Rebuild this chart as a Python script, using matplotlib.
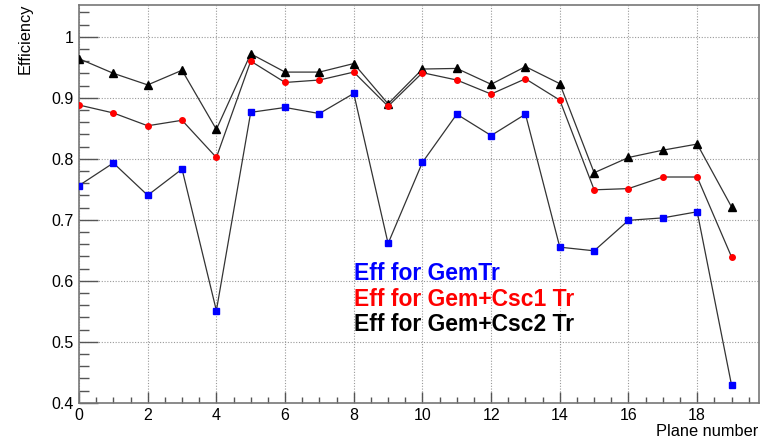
import matplotlib
matplotlib.use("Agg")
import matplotlib.pyplot as plt
from matplotlib.ticker import MultipleLocator, FuncFormatter

plt.rcParams['font.family'] = ['Liberation Sans', 'DejaVu Sans']

planes = list(range(20))
eff_gem = [0.756, 0.793, 0.740, 0.783, 0.551, 0.876, 0.884, 0.874, 0.907, 0.661,
           0.794, 0.873, 0.838, 0.873, 0.655, 0.649, 0.699, 0.703, 0.713, 0.429]
eff_csc1 = [0.888, 0.875, 0.854, 0.863, 0.802, 0.960, 0.925, 0.929, 0.942, 0.886,
            0.941, 0.929, 0.906, 0.931, 0.896, 0.749, 0.751, 0.770, 0.770, 0.639]
eff_csc2 = [0.964, 0.940, 0.921, 0.945, 0.848, 0.972, 0.942, 0.942, 0.956, 0.890,
            0.947, 0.948, 0.922, 0.951, 0.923, 0.777, 0.802, 0.814, 0.824, 0.721]
legend_labels = ["Eff for GemTr", "Eff for Gem+Csc1 Tr", "Eff for Gem+Csc2 Tr"]
legend_colors = ["#0000ff", "#ff0000", "#000000"]

fig = plt.figure(figsize=(7.73, 4.41), dpi=100)
ax = fig.add_axes([79/773, 1 - 402.7/441, (759 - 79)/773, (402.7 - 5.3)/441])

line_col = "#333333"
ax.plot(planes, eff_csc2, color=line_col, lw=0.9, marker='^', ms=5.6,
        mfc='black', mec='black', zorder=3)
ax.plot(planes, eff_csc1, color=line_col, lw=0.9, marker='o', ms=4.0,
        mfc='#ff0000', mec='#ff0000', zorder=3)
ax.plot(planes, eff_gem, color=line_col, lw=0.9, marker='s', ms=3.7,
        mfc='#0000ff', mec='#0000ff', zorder=3)

ax.set_xlim(0, 19.8)
ax.set_ylim(0.4, 1.0515)

ax.xaxis.set_major_locator(MultipleLocator(2))
ax.xaxis.set_minor_locator(MultipleLocator(0.5))
ax.yaxis.set_major_locator(MultipleLocator(0.1))
ax.yaxis.set_minor_locator(MultipleLocator(0.02))
ax.yaxis.set_major_formatter(FuncFormatter(lambda v, p: f"{v:g}"))

ax.tick_params(axis='both', which='both', direction='in', color='#555555',
               labelsize=11.5, top=False, right=False)
ax.tick_params(axis='y', which='major', length=14, width=1, pad=4)
ax.tick_params(axis='y', which='minor', length=7, width=1)
ax.tick_params(axis='x', which='major', length=8, width=1, pad=4)
ax.tick_params(axis='x', which='minor', length=4.3, width=1)

ax.grid(True, which='major', color='#999999', linestyle=(0, (1, 1.5)), lw=0.8)
for s in ax.spines.values():
    s.set_color('#777777')
    s.set_linewidth(1.2)

fig.text(25/773, 1 - 4/441, "Efficiency", rotation=90, ha='center', va='top',
         fontsize=11.8)
fig.text(758/773, 1 - 439/441, "Plane number", ha='right', va='bottom',
         fontsize=11.8)

for i, (lab, col) in enumerate(zip(legend_labels, legend_colors)):
    fig.text(354/773, 1 - (280 + 25.5*i)/441, lab, color=col, fontsize=16.5,
             fontweight='bold', ha='left', va='baseline')

fig.savefig("out.png", dpi=100)
